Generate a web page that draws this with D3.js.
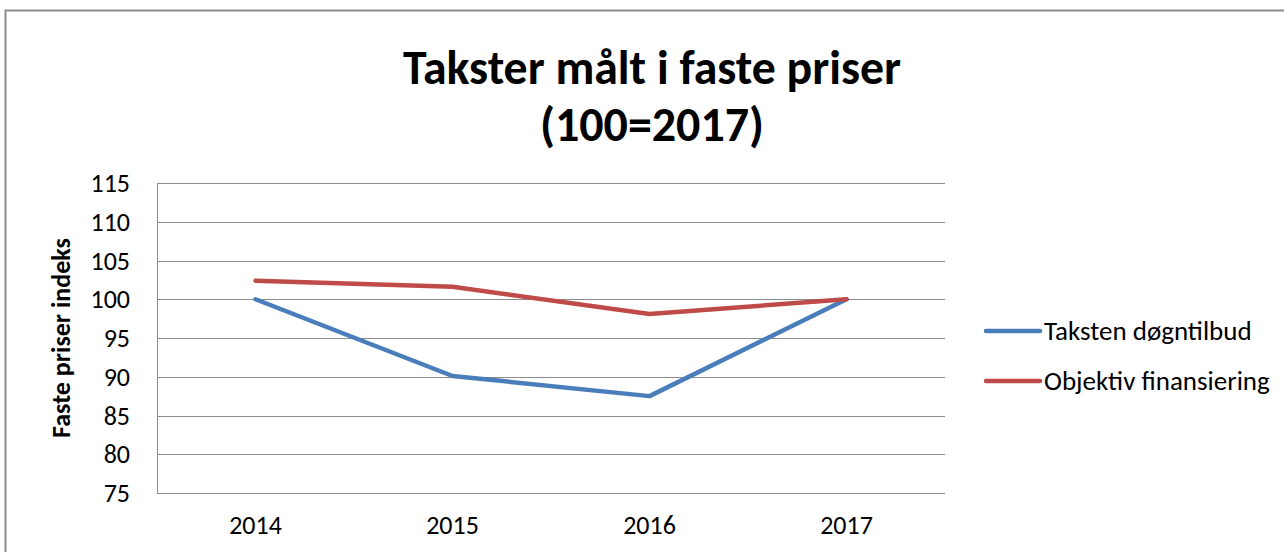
<!DOCTYPE html>
<html>
<head>
<meta charset="utf-8">
<script src="https://cdn.jsdelivr.net/npm/d3@7"></script>
<style>
  body { margin: 0; background: #fff; }
  text { font-family: Carlito, "Liberation Sans Narrow", "Open Sans", sans-serif; fill: #000; }
</style>
</head>
<body>
<script>
var years = ['2014', '2015', '2016', '2017'];
var taksten = [100, 90.1, 87.5, 100];
var objektiv = [102.4, 101.6, 98.1, 100];
var yTicks = [75, 80, 85, 90, 95, 100, 105, 110, 115];
var seriesNames = ['Taksten døgntilbud', 'Objektiv finansiering'];
var seriesColors = ['#4a7ebb', '#be4b48'];

var screen = { width: 1284, height: 552 };
var plot = { left: 157, top: 183, right: 945, bottom: 493 };

var svg = d3.select('body').append('svg')
  .attr('width', screen.width)
  .attr('height', screen.height);

// chart frame
svg.append('rect')
  .attr('x', 5.5).attr('y', 10.5)
  .attr('width', 1300).attr('height', 600)
  .attr('fill', 'none')
  .attr('stroke', '#8c8c8c')
  .attr('stroke-width', 2);

var xScale = d3.scalePoint()
  .domain(years)
  .range([plot.left, plot.right])
  .padding(0.5);

var yScale = d3.scaleLinear()
  .domain([75, 115])
  .range([plot.bottom, plot.top]);

// gridlines
svg.append('g').selectAll('line')
  .data(yTicks)
  .enter().append('line')
  .attr('x1', plot.left).attr('x2', plot.right)
  .attr('y1', function(d){ return Math.round(yScale(d)) + 0.5; })
  .attr('y2', function(d){ return Math.round(yScale(d)) + 0.5; })
  .attr('stroke', '#8c8c8c')
  .attr('stroke-width', 1);

svg.append('line')
  .attr('x1', plot.left + 0.5).attr('x2', plot.left + 0.5)
  .attr('y1', plot.top).attr('y2', plot.bottom)
  .attr('stroke', '#8c8c8c');

// y tick labels
svg.append('g').selectAll('text')
  .data(yTicks)
  .enter().append('text')
  .attr('x', 130)
  .attr('y', function(d){ return yScale(d); })
  .attr('dy', '0.35em')
  .attr('text-anchor', 'end')
  .attr('font-size', 26)
  .attr('fill', '#222')
  .text(function(d){ return d; });

// x labels
svg.append('g').selectAll('text')
  .data(years)
  .enter().append('text')
  .attr('x', function(d){ return xScale(d); })
  .attr('y', 534)
  .attr('text-anchor', 'middle')
  .attr('font-size', 26)
  .attr('fill', '#222')
  .text(function(d){ return d; });

// y title
svg.append('text')
  .attr('transform', 'translate(70,' + ((plot.top + plot.bottom) / 2) + ') rotate(-90)')
  .attr('text-anchor', 'middle')
  .attr('font-size', 26)
  .attr('font-weight', 'bold')
  .text('Faste priser indeks');

// title
svg.append('text')
  .attr('x', 652).attr('y', 84)
  .attr('text-anchor', 'middle')
  .attr('font-size', 48)
  .attr('font-weight', 'bold')
  .attr('textLength', 498)
  .attr('lengthAdjust', 'spacingAndGlyphs')
  .text('Takster målt i faste priser');
svg.append('text')
  .attr('x', 652).attr('y', 141)
  .attr('text-anchor', 'middle')
  .attr('font-size', 48)
  .attr('font-weight', 'bold')
  .attr('textLength', 224)
  .attr('lengthAdjust', 'spacingAndGlyphs')
  .text('(100=2017)');

// lines
var line = d3.line()
  .x(function(d, i){ return xScale(years[i]); })
  .y(function(d){ return yScale(d); });

[taksten, objektiv].forEach(function(values, i){
  svg.append('path')
    .datum(values)
    .attr('d', line)
    .attr('fill', 'none')
    .attr('stroke', seriesColors[i])
    .attr('stroke-width', 4.5)
    .attr('stroke-linejoin', 'round')
    .attr('stroke-linecap', 'round');
});

// legend
var legend = svg.append('g').attr('transform', 'translate(986,331)');
seriesNames.forEach(function(name, i){
  var g = legend.append('g').attr('transform', 'translate(0,' + (i * 50) + ')');
  g.append('line')
    .attr('x1', 0).attr('x2', 54)
    .attr('y1', 0).attr('y2', 0)
    .attr('stroke', seriesColors[i])
    .attr('stroke-width', 4.5)
    .attr('stroke-linecap', 'round');
  g.append('text')
    .attr('x', 58).attr('y', 0)
    .attr('dy', '0.35em')
    .attr('font-size', 27)
    .attr('fill', '#222')
    .text(name);
});
</script>
</body>
</html>
